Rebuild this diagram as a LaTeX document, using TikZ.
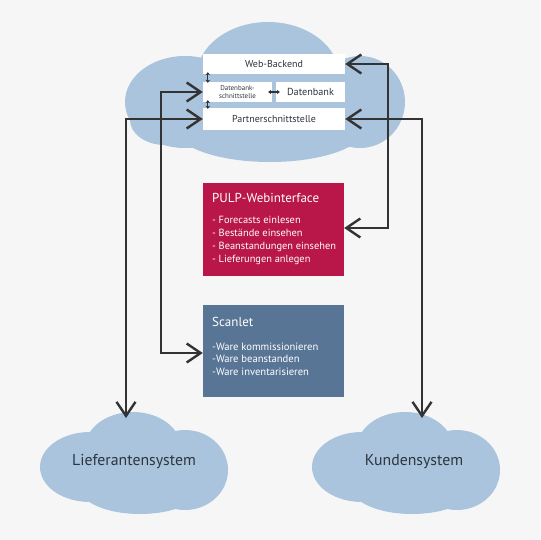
\documentclass[tikz,border=0pt]{standalone}
\usepackage{fontspec}
\setmainfont{PT Sans}
\usetikzlibrary{arrows.meta}
\definecolor{bgc}{HTML}{F6F6F6}
\definecolor{cloudc}{HTML}{A9C4DC}
\definecolor{pulpc}{HTML}{B9164A}
\definecolor{scanc}{HTML}{587596}
\definecolor{linec}{HTML}{333333}
\definecolor{txtc}{HTML}{2E353D}
\tikzset{
  wbox/.style={fill=white, draw=none, inner sep=0pt, text=txtc, font=\fontsize{10}{12}\selectfont},
  cbox/.style={draw=none, inner sep=0pt, minimum width=141pt},
  boxtitle/.style={anchor=base west, inner sep=0pt, text=white, font=\fontsize{13}{15}\selectfont},
  boxlist/.style={anchor=north west, inner sep=0pt, text=white, align=left},
  conn/.style={draw=linec, line width=2.4pt, line cap=round, line join=miter, {Straight Barb[length=14pt,width=19pt]}-{Straight Barb[length=14pt,width=19pt]}},
  smallarr/.style={draw=linec, line width=1.2pt, {Stealth[length=3pt,width=4.5pt]}-{Stealth[length=3pt,width=4.5pt]}},
  cloudtxt/.style={text=txtc, inner sep=0pt, font=\fontsize{15.8}{18}\selectfont},
  lowcloud/.pic={
    \fill[cloudc] (133,448) ellipse [x radius=48, y radius=36];
    \fill[cloudc] (90,467) ellipse [x radius=50, y radius=35];
    \fill[cloudc] (185,470) ellipse [x radius=43, y radius=40];
    \fill[cloudc] (140,488) ellipse [x radius=60, y radius=26];
  }
}
\begin{document}
\begin{tikzpicture}[x=1pt,y=-1pt]
\useasboundingbox (0,0) rectangle (540,540);
\fill[bgc] (0,0) rectangle (540,540);

% top cloud
\fill[cloudc] (268,78) ellipse [x radius=72, y radius=56];
\fill[cloudc] (185,102) ellipse [x radius=60, y radius=46];
\fill[cloudc] (360,102) ellipse [x radius=45, y radius=46];
\fill[cloudc] (270,128) ellipse [x radius=95, y radius=34];
\fill[cloudc] (165,120) ellipse [x radius=35, y radius=25];

% bottom clouds
\pic at (0,0) {lowcloud};
\pic at (272,0) {lowcloud};
\node[cloudtxt] (lief) at (134,462) {Lieferantensystem};
\node[cloudtxt] (kund) at (414,462) {Kundensystem};

% backend boxes
\node[wbox, minimum width=142pt, minimum height=20pt] (web) at (274,64) {Web-Backend};
\node[wbox, minimum width=69pt, minimum height=20pt, align=center, font=\fontsize{7}{8}\selectfont] (dbs) at (237.5,92) {Datenbank-\\schnittstelle};
\node[wbox, minimum width=69pt, minimum height=20pt, font=\fontsize{10.2}{12}\selectfont] (db) at (310.5,92) {Datenbank};
\node[wbox, minimum width=142pt, minimum height=22pt] (partner) at (274,119) {Partnerschnittstelle};

\draw[smallarr] ([xshift=5pt,yshift=2pt]web.south west) -- ([xshift=5pt,yshift=-1pt]dbs.north west);
\draw[smallarr] ([xshift=5pt,yshift=2pt]dbs.south west) -- ([xshift=5pt,yshift=-1pt]partner.north west);
\draw[smallarr] ([xshift=-4pt]dbs.east) -- ([xshift=4pt]db.west);

% PULP box
\node[cbox, fill=pulpc, minimum height=93pt] (pulp) at (273.5,229.5) {};
\node[boxtitle] (pulpT) at (212,202) {PULP-Webinterface};
\node[boxlist, font=\fontsize{10.4}{13}\selectfont] (pulpL) at (212,215.5) {- Forecasts einlesen\\- Bestände einsehen\\- Beanstandungen einsehen\\- Lieferungen anlegen};

% Scanlet box
\node[cbox, fill=scanc, minimum height=92pt] (scan) at (273.5,351) {};
\node[boxtitle] (scanT) at (212,326) {Scanlet};
\node[boxlist, font=\fontsize{10.6}{12.7}\selectfont] (scanL) at (212,342.4) {-Ware kommissionieren\\-Ware beanstanden\\-Ware inventarisieren};

% connector coordinates
\coordinate (liefTop) at (126,418);
\coordinate (kundTop) at (422,418);
\coordinate (lk) at (161,353);
\coordinate (rk) at (388,228);

% connectors
\draw[conn] (liefTop) |- (partner.west);
\draw[conn] (dbs.west) -| (lk) -- (lk -| scan.west);
\draw[conn] (web.east) -| (rk) -- (rk -| pulp.east);
\draw[conn] (partner.east) -| (kundTop);
\end{tikzpicture}
\end{document}
